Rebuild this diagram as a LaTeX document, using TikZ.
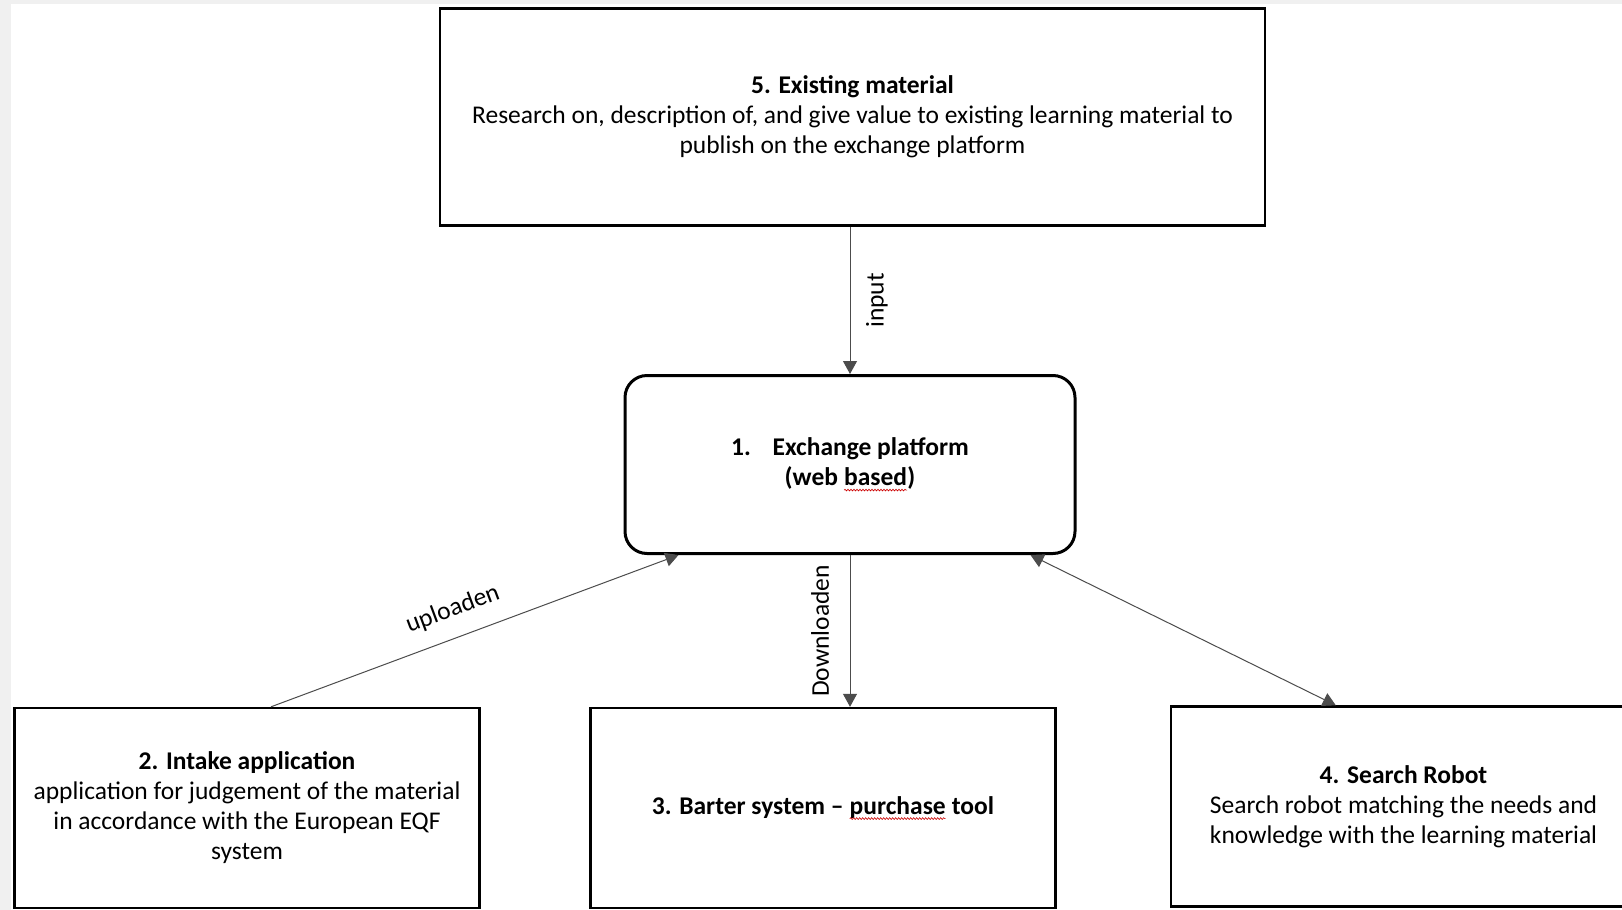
\documentclass[tikz,border=0pt]{standalone}
\usepackage{fontspec}
\setmainfont{Carlito}
\usetikzlibrary{arrows.meta,decorations.pathmorphing}

% red spell-check wave under a word
\newcommand{\spellmark}[1]{\tikz[baseline=(w.base), x=1pt, y=1pt]{%
    \node[draw=none, inner sep=0pt, outer sep=0pt, minimum width=0pt,
          minimum height=0pt, anchor=base] (w) {#1};
    \draw[red!80!black, line width=0.6pt, sharp corners, decorate,
          decoration={snake, amplitude=0.9pt, segment length=3pt}]
        ([yshift=-4.5pt]w.base west) -- ([yshift=-4.5pt]w.base east);}}

\begin{document}
\begin{tikzpicture}[x=1pt, y=-1pt,
    font=\fontsize{25.5}{30}\selectfont,
    box/.style={draw, line width=2.4pt, align=center, inner sep=0pt,
                minimum width=465pt, minimum height=200pt},
    flow/.style={draw=black!70, line width=1pt},
    tip/.style={-{Triangle[width=14pt,length=13pt]}},
    bothtips/.style={{Triangle[width=14pt,length=13pt]}-{Triangle[width=14pt,length=13pt]}}]

    % Page and its grey edges
    \useasboundingbox (0,0) rectangle (1622,910);
    \fill[black!6] (0,0) rectangle (1622,910);
    \fill[white] (11,4) rectangle (1622,910);

    % Existing material (top)
    \node[box, minimum width=825pt, minimum height=217pt] (material) at (852.5,117)
        {\textbf{5. Existing material}\\
         Research on, description of, and give value to existing learning material to\\
         publish on the exchange platform};

    % Exchange platform (middle)
    \node[box, rounded corners=22pt, line width=3pt,
          minimum width=450pt, minimum height=178pt] (platform) at (850,464.5)
        {\textbf{1.\hspace{0.85em}Exchange platform}\\
         \textbf{(web \spellmark{based})}};

    % Intake application (bottom left)
    \node[box] (intake) at (247,808)
        {\textbf{2. Intake application}\\
         application for judgement of the material\\
         in accordance with the European EQF\\
         system};

    % Barter system (bottom middle)
    \node[box] (barter) at (823,808)
        {\textbf{3. Barter system \textendash{} \spellmark{purchase} tool}};

    % Search robot (bottom right)
    \node[box] (robot) at (1403.5,806.5)
        {\textbf{4. Search Robot}\\
         Search robot matching the needs and\\
         knowledge with the learning material};

    % input
    \draw[flow, tip] (material.south -| platform.north) --
        node[midway, xshift=27pt, rotate=90] {input} (platform.north);

    % Downloaden
    \draw[flow, tip] (platform.south) --
        node[midway, xshift=-30pt, rotate=90] {Downloaden} (platform.south |- barter.north);

    % uploaden
    \draw[flow, tip] ([xshift=24pt]intake.north) --
        node[pos=0.47, sloped, above=13pt] {uploaden} ([xshift=55pt]platform.south west);

    % Search robot link
    \draw[flow, bothtips] ([xshift=-46pt]platform.south east) -- ([xshift=166pt]robot.north west);

\end{tikzpicture}
\end{document}
